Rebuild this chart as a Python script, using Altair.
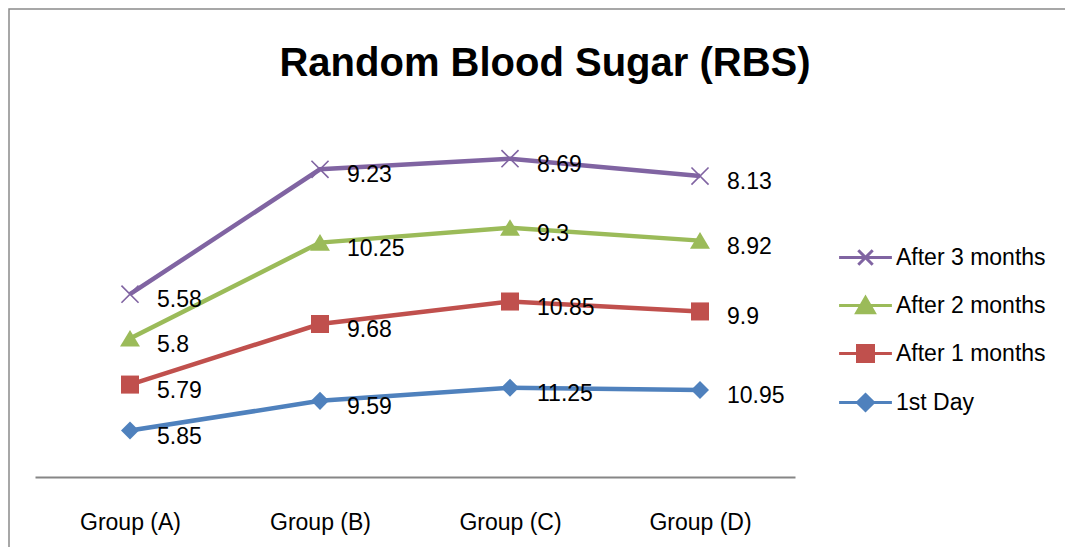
import altair as alt
import pandas as pd

groups = ["Group (A)", "Group (B)", "Group (C)", "Group (D)"]
series_names = ["1st Day", "After 1 months", "After 2 months", "After 3 months"]
first_day = [5.85, 9.59, 11.25, 10.95]
after_1 = [5.79, 9.68, 10.85, 9.9]
after_2 = [5.8, 10.25, 9.3, 8.92]
after_3 = [5.58, 9.23, 8.69, 8.13]
labels_first = ["5.85", "9.59", "11.25", "10.95"]
labels_1 = ["5.79", "9.68", "10.85", "9.9"]
labels_2 = ["5.8", "10.25", "9.3", "8.92"]
labels_3 = ["5.58", "9.23", "8.69", "8.13"]
title_text = ["Random Blood Sugar (RBS)"]

colors = {"1st Day": "#4F81BD", "After 1 months": "#C0504D",
          "After 2 months": "#9BBB59", "After 3 months": "#8064A2"}

rows = []
for k, (name, vals, labs) in enumerate(zip(series_names,
                                             [first_day, after_1, after_2, after_3],
                                             [labels_first, labels_1, labels_2, labels_3])):
    for g, v, l in zip(groups, vals, labs):
        rows.append({"group": g, "series": name, "value": v, "label": l, "ord": k})
df = pd.DataFrame(rows)

legend_order = ["After 3 months", "After 2 months", "After 1 months", "1st Day"]

def line_scale():
    # series order (differs from legend order so the hidden colour legend stays separate)
    return alt.Scale(domain=series_names, range=[colors[s] for s in series_names])

def legend_scale():
    return alt.Scale(domain=legend_order, range=[colors[s] for s in legend_order])

marker_paths = {
    "1st Day": "M0,-0.95L0.95,0L0,0.95L-0.95,0Z",
    "After 1 months": "M-0.95,-0.95H0.95V0.95H-0.95Z",
    "After 2 months": "M0,-0.9L1.05,0.85L-1.05,0.85Z",
    "After 3 months": "M-0.9,-0.9L0.9,0.9M-0.9,0.9L0.9,-0.9",
}
legend_paths = {
    "1st Day": "M-3.3,0L3.3,0M0,-1L1,0L0,1L-1,0Z",
    "After 1 months": "M-3.3,0L3.3,0M-1,-1L1,-1L1,1L-1,1Z",
    "After 2 months": "M-3.3,0L3.3,0M0,-1L1.1,0.9L-1.1,0.9Z",
    "After 3 months": "M-3.3,0L3.3,0M-0.9,-0.9L0.9,0.9M-0.9,0.9L0.9,-0.9",
}

FONT = "Liberation Sans"

base = alt.Chart(df).transform_stack(
    stack="value", groupby=["group"], as_=["y0", "y1"],
    sort=[alt.SortField("ord", order="ascending")]
)

x_enc = alt.X("group:N", sort=groups,
              scale=alt.Scale(type="point", padding=0.5),
              axis=alt.Axis(title=None, ticks=False, labelAngle=0, labelPadding=34,
                            labelFont=FONT, labelFontSize=23, labelColor="#000000",
                            domainColor="#868686", domainWidth=2, grid=False))
y_enc = alt.Y("y1:Q", scale=alt.Scale(domain=[0, 50], nice=False), axis=None)

lines = base.mark_line(strokeWidth=4.5).encode(
    x=x_enc, y=y_enc,
    color=alt.Color("series:N", scale=line_scale(), legend=None),
    detail="series:N",
)

point_layers = []
for s in series_names:
    filled = s != "After 3 months"
    point_layers.append(
        base.transform_filter(alt.datum.series == s).mark_point(
            shape=marker_paths[s], filled=filled, size=361, opacity=1,
            strokeWidth=1.6 if not filled else 0
        ).encode(x=x_enc, y=y_enc,
                 color=alt.Color("series:N", scale=line_scale(), legend=None))
    )

texts = base.mark_text(align="left", baseline="middle", dx=27, dy=6,
                       font=FONT, fontSize=23, color="#000000").encode(
    x=x_enc, y=y_enc, text="label:N")

legend_kw = dict(orient="none", legendX=819, legendY=166, title=None,
                 labelFont=FONT, labelFontSize=23, labelColor="#000000",
                 symbolSize=256, symbolStrokeWidth=3, rowPadding=20,
                 symbolOpacity=1, labelOffset=19)

legend_layer = base.mark_point(
    filled=True, size=256, opacity=0, strokeWidth=3).encode(
    x=x_enc, y=y_enc,
    fill=alt.Fill("series:N", scale=legend_scale(), legend=alt.Legend(**legend_kw)),
    stroke=alt.Stroke("series:N", scale=legend_scale(), legend=alt.Legend(**legend_kw)),
    shape=alt.Shape("series:N",
                    scale=alt.Scale(domain=legend_order,
                                    range=[legend_paths[s] for s in legend_order]),
                    legend=alt.Legend(**legend_kw)),
)

title_layer = alt.Chart(pd.DataFrame({"t": title_text})).mark_text(
    font=FONT, fontSize=40, fontWeight="bold", color="#000000",
    align="center", baseline="alphabetic").encode(
    text="t:N", x=alt.value(510), y=alt.value(-4))

border = alt.Chart(pd.DataFrame({"a": [0]})).mark_rect(
    fillOpacity=0, stroke="#8a8a8a", strokeWidth=1.5).encode(
    x=alt.value(-26), x2=alt.value(1100), y=alt.value(-71), y2=alt.value(1000))

chart = alt.layer(border, title_layer, lines, *point_layers, texts, legend_layer).properties(
    width=760, height=397,
    autosize=alt.AutoSizeParams(type="none"),
    padding={"left": 27, "top": 72, "right": 270, "bottom": 70},
).configure(font=FONT).configure_view(strokeWidth=0)

chart.save("out.html", embed_options={"renderer": "svg", "actions": False})
